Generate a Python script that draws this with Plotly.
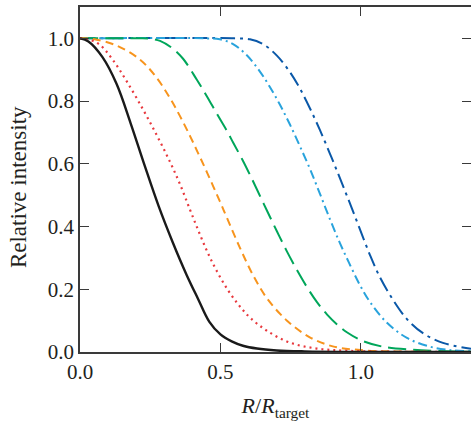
import plotly.graph_objects as go

# Data
black_x = [0, 0.03, 0.08, 0.13, 0.18, 0.23, 0.28, 0.33, 0.38, 0.42, 0.46, 0.50, 0.54, 0.58, 0.63, 0.70, 0.80, 0.95, 1.392]
black_y = [1.0, 0.99, 0.94, 0.855, 0.73, 0.595, 0.465, 0.35, 0.245, 0.17, 0.097, 0.056, 0.034, 0.02, 0.011, 0.005, 0.002, 0.0005, 0.0]

red_x = [0, 0.03, 0.07, 0.118, 0.167, 0.224, 0.274, 0.32, 0.356, 0.391, 0.42, 0.452, 0.487, 0.527, 0.565, 0.605, 0.665, 0.747, 0.843, 0.95, 1.1, 1.392]
red_y = [1.0, 0.997, 0.98, 0.93, 0.862, 0.774, 0.69, 0.607, 0.535, 0.455, 0.39, 0.322, 0.258, 0.197, 0.15, 0.11, 0.068, 0.03, 0.011, 0.004, 0.001, 0.0]

orange_x = [0, 0.047, 0.13, 0.214, 0.274, 0.32, 0.356, 0.391, 0.42, 0.452, 0.498, 0.523, 0.569, 0.616, 0.665, 0.737, 0.818, 0.9, 1.0, 1.1, 1.392]
orange_y = [1.0, 0.998, 0.977, 0.932, 0.873, 0.81, 0.752, 0.69, 0.635, 0.573, 0.48, 0.428, 0.333, 0.245, 0.172, 0.1, 0.047, 0.018, 0.006, 0.002, 0.0]

green_x = [0, 0.2, 0.249, 0.285, 0.331, 0.367, 0.416, 0.452, 0.487, 0.523, 0.545, 0.58, 0.605, 0.63, 0.665, 0.701, 0.737, 0.772, 0.808, 0.843, 0.879, 0.915, 0.95, 1.007, 1.078, 1.185, 1.306, 1.392]
green_y = [1.0, 1.0, 0.999, 0.992, 0.967, 0.935, 0.868, 0.815, 0.76, 0.705, 0.668, 0.61, 0.565, 0.518, 0.452, 0.385, 0.32, 0.262, 0.207, 0.16, 0.12, 0.088, 0.063, 0.035, 0.017, 0.007, 0.002, 0.001]

lblue_x = [0, 0.45, 0.498, 0.545, 0.594, 0.64, 0.676, 0.712, 0.747, 0.783, 0.818, 0.854, 0.89, 0.925, 0.96, 0.995, 1.032, 1.093, 1.164, 1.246, 1.32, 1.392]
lblue_y = [1.0, 1.0, 0.997, 0.982, 0.946, 0.895, 0.845, 0.788, 0.726, 0.656, 0.585, 0.505, 0.423, 0.348, 0.28, 0.216, 0.16, 0.093, 0.045, 0.017, 0.006, 0.002]

dblue_x = [0, 0.55, 0.605, 0.651, 0.701, 0.747, 0.783, 0.818, 0.854, 0.89, 0.925, 0.96, 0.995, 1.032, 1.068, 1.114, 1.164, 1.221, 1.292, 1.392]
dblue_y = [1.0, 1.0, 0.997, 0.982, 0.945, 0.893, 0.84, 0.778, 0.708, 0.632, 0.555, 0.476, 0.395, 0.31, 0.238, 0.167, 0.105, 0.06, 0.029, 0.01]

x_ticks = [0.0, 0.5, 1.0]
x_tick_labels = ["0.0", "0.5", "1.0"]
y_ticks = [0.0, 0.2, 0.4, 0.6, 0.8, 1.0]
y_tick_labels = ["0.0", "0.2", "0.4", "0.6", "0.8", "1.0"]

series = [
    (dblue_x, dblue_y, "#0a58a8", "15px,5px,3px,5px", 2),
    (lblue_x, lblue_y, "#29a3dc", "9px,4px,2px,4px", 2),
    (green_x, green_y, "#00a65a", "18px,7px", 2),
    (orange_x, orange_y, "#f7941d", "8px,5px", 2),
    (red_x, red_y, "#e8383d", "2px,4px", 2.2),
    (black_x, black_y, "#1a1a1a", "solid", 2.4),
]

fig = go.Figure()
for xs, ys, col, dash, w in series:
    fig.add_trace(go.Scatter(x=xs, y=ys, mode="lines",
                             line=dict(color=col, dash=dash, width=w, shape="spline", smoothing=1.0),
                             showlegend=False, hoverinfo="skip"))

font_family = "Liberation Serif"
axis_col = "#3a3a3a"

fig.update_layout(
    width=471, height=425,
    margin=dict(l=80, r=0, t=7, b=73),
    paper_bgcolor="white", plot_bgcolor="white",
    font=dict(family=font_family, size=21, color="#231f20"),
    xaxis=dict(range=[0, 1.392], tickvals=x_ticks, ticktext=x_tick_labels,
               ticks="inside", ticklen=9, tickwidth=1.3, tickcolor=axis_col,
               showline=True, linecolor=axis_col, linewidth=1.5, mirror="ticks",
               showgrid=False, zeroline=False, tickfont=dict(size=21),
               title=dict(text="<i>R</i>/<i>R</i><sub>target</sub>", standoff=15,
                          font=dict(size=22))),
    yaxis=dict(range=[0, 1.1], tickvals=y_ticks, ticktext=y_tick_labels,
               ticks="inside", ticklen=9, tickwidth=1.3, tickcolor=axis_col,
               showline=True, linecolor=axis_col, linewidth=1.5, mirror=False,
               showgrid=False, zeroline=False, tickfont=dict(size=21)),
    yaxis2=dict(range=[0, 1.1], tickvals=y_ticks, overlaying="y", side="right",
                ticks="inside", ticklen=9, tickwidth=1.3, tickcolor=axis_col,
                showticklabels=False, showline=False, showgrid=False, zeroline=False),
    annotations=[dict(text="Relative intensity", textangle=-90, showarrow=False,
                      xref="paper", yref="paper", x=-0.1586, y=0.478,
                      xanchor="center", yanchor="middle", font=dict(size=23))],
)
fig.add_trace(go.Scatter(x=[0], y=[0], yaxis="y2", mode="markers",
                         marker=dict(opacity=0), showlegend=False, hoverinfo="skip"))

fig.write_html("out.html")
